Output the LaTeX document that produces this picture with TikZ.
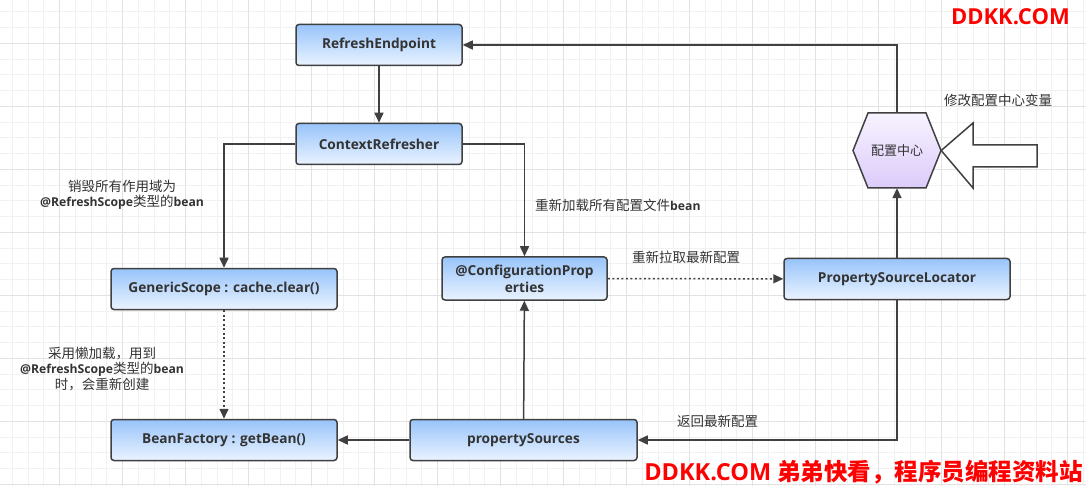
\documentclass[tikz,border=0pt]{standalone}
\usepackage{fontspec}
\setmainfont{Open Sans}
\newfontfamily\cjk{Noto Sans CJK SC}
\usetikzlibrary{arrows.meta}
\definecolor{edgecol}{HTML}{404040}
\definecolor{txtcol}{HTML}{333333}
\definecolor{boxtop}{HTML}{98C4FA}
\definecolor{boxbot}{HTML}{EAF3FF}
\definecolor{hextop}{HTML}{F7F3FF}
\definecolor{hexbot}{HTML}{DCCBFA}
\definecolor{gridminor}{HTML}{F1F1F1}
\definecolor{gridmajor}{HTML}{E2E2E2}
\definecolor{wmred}{HTML}{FF0000}
\tikzset{
  box/.style={draw=edgecol, line width=1.5pt, rounded corners=3pt,
    top color=boxtop, bottom color=boxbot, text=txtcol,
    minimum height=41pt, inner sep=2pt, align=center,
    font=\fontsize{13.7}{17}\selectfont\bfseries},
  lbl/.style={text=txtcol, align=center, inner sep=0pt,
    font=\fontsize{13.5}{15.5}\selectfont},
  conn/.style={draw=edgecol, line width=1.5pt,
    -{Triangle[length=10pt,width=9pt]}},
  dotc/.style={dash pattern=on 2pt off 2.5pt},
  wm/.style={text=wmred, inner sep=0pt, font=\fontsize{23.5}{26}\selectfont\bfseries}
}
\newcommand{\lat}[1]{{\fontsize{12.2}{15}\selectfont\bfseries #1}}
\begin{document}
\begin{tikzpicture}[x=1pt,y=-1pt]
\useasboundingbox (0,0) rectangle (1086,486);
\fill[white] (0,0) rectangle (1086,486);
% grid
\foreach \i in {0,...,69} {
  \draw[gridminor, line width=1pt] ({12.3+15.75*\i},0) -- ({12.3+15.75*\i},486);
}
\foreach \j in {0,...,30} {
  \draw[gridminor, line width=1pt] (0,{11.8+15.75*\j}) -- (1086,{11.8+15.75*\j});
}
\foreach \i in {0,...,17} {
  \draw[gridmajor, line width=1pt] ({59.3+63*\i},0) -- ({59.3+63*\i},486);
}
\foreach \j in {0,...,7} {
  \draw[gridmajor, line width=1pt] (0,{43.3+63*\j}) -- (1086,{43.3+63*\j});
}

% nodes
\node[box, minimum width=166pt] (re) at (379,45) {RefreshEndpoint};
\node[box, minimum width=166pt] (cr) at (379,144) {ContextRefresher};
\node[box, minimum width=226pt] (gs) at (224,289) {GenericScope : cache.clear()};
\node[box, minimum width=165pt, minimum height=43pt] (cp) at (524.5,278.5) {@ConfigurationProp\\erties};
\node[box, minimum width=226pt] (psl) at (897,279) {PropertySourceLocator};
\node[box, minimum width=226pt] (bf) at (224,440) {BeanFactory : getBean()};
\node[box, minimum width=227pt] (ps) at (523.5,440) {propertySources};

% hexagon
\path[draw=edgecol, line width=1.5pt, top color=hextop, bottom color=hexbot]
  (853,150.5) -- (868,113) -- (926,113) -- (941,150.5) -- (926,188) -- (868,188) -- cycle;
\node[minimum width=88pt, minimum height=75pt, inner sep=0pt, text=txtcol,
  font=\fontsize{13}{15}\selectfont\cjk] (cfg) at (897,150.5) {配置中心};

% big hollow arrow
\draw[edgecol, line width=1.5pt, fill=white]
  (cfg.east) -- (973,123) -- (973,145) -- (1037,145) -- (1037,167) -- (973,167) -- (973,188) -- cycle;

% connectors
\draw[conn] (cfg.north) |- (re.east);
\draw[conn] (re) -- (cr);
\draw[conn] (cr.west) -| (gs.north);
\draw[conn] (cr.east) -| (cp.north);
\draw[conn, dotc] (gs) -- (bf);
\draw[conn, dotc] (cp) -- (psl);
\draw[conn] (psl) -- (cfg.south);
\draw[conn] (psl.south) |- (ps.east);
\draw[conn] (ps) -- (cp);
\draw[conn] (ps) -- (bf);

% labels
\node[lbl] (l1) at (122,195) {{\cjk 销毁所有作用域为}\\\lat{@RefreshScope}{\cjk 类型的}\lat{bean}};
\node[lbl, anchor=west] (l2) at (535,205) {{\cjk 重新加载所有配置文件}\lat{bean}};
\node[lbl, anchor=west] (l3) at (632,257) {{\cjk 重新拉取最新配置}};
\node[lbl, anchor=west] (l4) at (944,100) {{\cjk 修改配置中心变量}};
\node[lbl] (l5) at (102,369) {{\cjk 采用懒加载，用到}\\\lat{@RefreshScope}{\cjk 类型的}\lat{bean}\\{\cjk 时，会重新创建}};
\node[lbl, anchor=west] (l6) at (677,421) {{\cjk 返回最新配置}};

% watermark
\node[wm, anchor=east, font=\fontsize{22}{26}\selectfont\bfseries] (w1) at (1070,17) {DDKK.COM};
\node[wm, anchor=east] (w2) at (1083,472) {DDKK.COM {\cjk 弟弟快看，程序员编程资料站}};
\end{tikzpicture}
\end{document}
